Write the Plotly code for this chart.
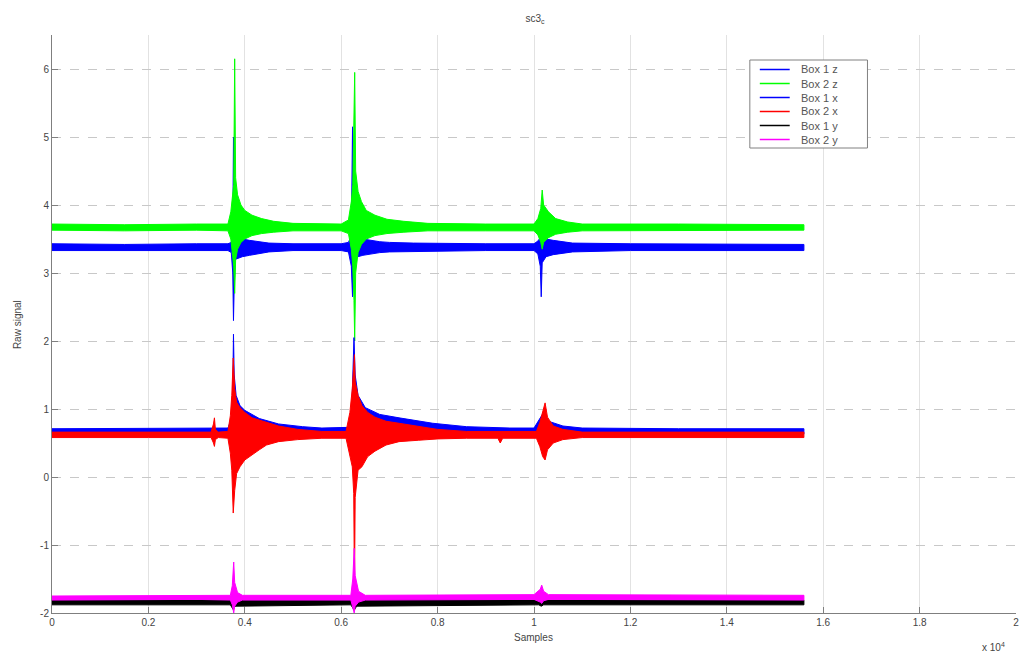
import plotly.graph_objects as go

# Envelopes of each raw signal: (sample, lower, upper)
box1_z = [(0,3.33,3.43),(1500,3.33,3.42),(3000,3.33,3.43),(3650,3.33,3.43),(3720,3.30,3.45),(3750,3.00,3.60),
          (3765,2.30,5.00),(3780,2.80,3.70),(3800,3.20,3.55),(3850,3.22,3.53),(3950,3.24,3.50),(4100,3.26,3.48),
          (4300,3.29,3.46),(4500,3.31,3.44),(5000,3.33,3.43),(6000,3.33,3.43),(6150,3.31,3.45),(6210,3.10,3.55),
          (6235,2.65,5.15),(6250,3.00,3.60),(6270,3.20,3.55),(6300,3.22,3.54),(6350,3.24,3.52),(6450,3.26,3.50),
          (6600,3.28,3.48),(6800,3.30,3.46),(7000,3.31,3.45),(7500,3.32,3.44),(9000,3.33,3.43),(10000,3.33,3.43),
          (10080,3.28,3.47),(10130,3.10,3.52),(10150,2.65,3.50),(10170,3.15,3.50),(10250,3.24,3.50),(10400,3.27,3.48),
          (10600,3.29,3.46),(10800,3.31,3.44),(12000,3.33,3.43),(14000,3.33,3.43),(15600,3.33,3.42)]

box2_z = [(0,3.63,3.72),(1500,3.62,3.71),(3000,3.63,3.72),(3650,3.62,3.72),(3710,3.50,3.90),(3740,3.30,4.10),
          (3770,3.10,4.30),(3790,2.70,6.15),(3810,3.20,4.40),(3850,3.35,4.15),(3920,3.45,4.00),(4000,3.50,3.92),
          (4150,3.55,3.85),(4350,3.58,3.80),(4600,3.60,3.76),(5000,3.62,3.73),(6000,3.62,3.72),(6150,3.58,3.78),
          (6210,3.35,4.05),(6240,3.10,4.30),(6265,2.60,5.20),(6280,2.00,5.95),(6300,3.00,4.50),(6350,3.30,4.20),
          (6420,3.42,4.05),(6520,3.50,3.92),(6700,3.55,3.85),(6950,3.58,3.79),(7300,3.60,3.76),(7800,3.62,3.73),
          (9000,3.62,3.72),(10000,3.62,3.72),(10080,3.56,3.80),(10140,3.45,3.95),(10170,3.35,4.22),(10200,3.45,4.00),
          (10300,3.52,3.90),(10450,3.57,3.80),(10700,3.60,3.75),(11000,3.62,3.72),(13000,3.62,3.72),(15600,3.63,3.71)]

box1_x = [(0,0.63,0.71),(2000,0.63,0.71),(3300,0.63,0.71),(3650,0.62,0.72),(3720,0.50,0.85),(3750,0.20,1.30),
          (3765,-0.10,2.10),(3780,0.30,1.50),(3820,0.45,1.20),(3900,0.50,1.05),(4000,0.53,0.98),(4300,0.56,0.86),
          (4700,0.60,0.78),(5200,0.62,0.74),(5600,0.63,0.72),(6150,0.62,0.73),(6220,0.40,1.00),(6250,0.10,1.60),
          (6265,0.00,2.05),(6290,0.30,1.50),(6350,0.45,1.20),(6500,0.50,1.02),(6800,0.55,0.92),(7200,0.58,0.87),
          (7900,0.61,0.79),(8600,0.63,0.74),(9500,0.63,0.72),(10000,0.63,0.72),(10120,0.55,0.85),(10200,0.45,0.95),
          (10300,0.55,0.82),(10600,0.62,0.75),(11000,0.63,0.72),(13000,0.63,0.71),(15600,0.63,0.71)]

box2_x = [(0,0.58,0.66),(2000,0.58,0.66),(3300,0.58,0.66),(3350,0.50,0.78),(3370,0.45,0.87),(3390,0.55,0.70),
          (3450,0.58,0.66),(3650,0.57,0.67),(3700,0.35,0.90),(3730,0.10,1.20),(3760,-0.53,1.75),(3790,-0.20,1.30),
          (3830,0.05,1.10),(3900,0.15,1.02),(4000,0.25,0.95),(4150,0.33,0.87),(4300,0.40,0.84),(4450,0.47,0.80),
          (4700,0.52,0.75),(5100,0.55,0.70),(5600,0.57,0.67),(6100,0.57,0.67),(6180,0.30,0.95),(6230,0.15,1.30),
          (6260,-0.24,1.60),(6275,-1.72,1.80),(6290,-0.30,1.40),(6350,0.10,1.20),(6430,0.15,1.05),(6550,0.30,0.95),
          (6700,0.38,0.88),(6930,0.47,0.82),(7200,0.52,0.79),(7600,0.54,0.74),(8000,0.56,0.70),(8600,0.57,0.67),
          (9250,0.57,0.67),(9300,0.50,0.68),(9350,0.57,0.67),(10050,0.57,0.67),(10120,0.45,0.80),(10180,0.30,0.95),
          (10230,0.25,1.09),(10280,0.40,0.88),(10400,0.50,0.75),(10600,0.55,0.70),(11000,0.58,0.66),(13000,0.58,0.66),
          (15600,0.58,0.66)]

box1_y = [(0,-1.88,-1.81),(3700,-1.88,-1.81),(3760,-1.95,-1.76),(3800,-1.90,-1.80),(6200,-1.88,-1.81),
          (6270,-1.96,-1.74),(6320,-1.90,-1.80),(10100,-1.88,-1.81),(10150,-1.90,-1.76),(10200,-1.88,-1.81),
          (15600,-1.88,-1.81)]

box2_y = [(0,-1.81,-1.75),(3000,-1.80,-1.74),(3700,-1.81,-1.74),(3740,-1.88,-1.60),(3770,-2.00,-1.25),
          (3790,-1.90,-1.55),(3850,-1.84,-1.70),(3950,-1.81,-1.74),(6200,-1.81,-1.74),(6240,-1.90,-1.50),
          (6270,-2.00,-1.05),(6290,-1.90,-1.45),(6360,-1.84,-1.68),(6500,-1.81,-1.74),(10000,-1.80,-1.73),
          (10130,-1.84,-1.65),(10160,-1.86,-1.59),(10200,-1.82,-1.68),(10300,-1.80,-1.73),(15600,-1.81,-1.74)]

series_names = ["Box 1 z", "Box 2 z", "Box 1 x", "Box 2 x", "Box 1 y", "Box 2 y"]
series_data = [box1_z, box2_z, box1_x, box2_x, box1_y, box2_y]
series_colors = ["#0000ff", "#00ff00", "#0000ff", "#ff0000", "#000000", "#ff00ff"]

x_tickvals = [0, 2000, 4000, 6000, 8000, 10000, 12000, 14000, 16000, 18000, 20000]
x_ticktext = ["0", "0.2", "0.4", "0.6", "0.8", "1", "1.2", "1.4", "1.6", "1.8", "2"]
y_tickvals = [-2, -1, 0, 1, 2, 3, 4, 5, 6]
y_ticktext = ["-2", "-1", "0", "1", "2", "3", "4", "5", "6"]

# plot-area geometry in pixels (for converting to paper coordinates)
L, R, T, B = 52, 1019, 35, 613
def px(xp):
    return (xp - L) / (R - L)
def py(yp):
    return (B - yp) / (B - T)

fig = go.Figure()
for name, data, color in zip(series_names, series_data, series_colors):
    xs = [p[0] for p in data]
    lo = [p[1] for p in data]
    hi = [p[2] for p in data]
    fig.add_trace(go.Scatter(
        x=xs + xs[::-1], y=hi + lo[::-1], mode="lines", fill="toself",
        fillcolor=color, line=dict(color=color, width=1), showlegend=False, name=name,
        hoverinfo="skip"))

font_family = "Liberation Sans, Arial, sans-serif"
axis_common = dict(showline=True, linecolor="#7f7f7f", linewidth=1, ticks="inside",
                   ticklen=6, tickcolor="#7f7f7f", mirror=False, zeroline=False,
                   tickfont=dict(size=10, color="#444", family=font_family))

shapes = []
annotations = [
    dict(text="Samples", xref="paper", yref="paper", x=px(535), y=py(637),
         showarrow=False, font=dict(size=10, color="#444"), xanchor="center", yanchor="middle"),
    dict(text="Raw signal", xref="paper", yref="paper", x=px(17), y=py(325),
         showarrow=False, textangle=-90, font=dict(size=10, color="#444"),
         xanchor="center", yanchor="middle"),
    dict(text="x 10<sup>4</sup>", xref="paper", yref="paper", x=px(996), y=py(647),
         showarrow=False, font=dict(size=10, color="#444"), xanchor="center", yanchor="middle"),
]

# legend box drawn by hand to match the compact MATLAB legend
shapes.append(dict(type="rect", xref="paper", yref="paper", x0=px(752), x1=px(870), y0=py(148), y1=py(60),
                   line=dict(color="#808080", width=1), fillcolor="white", layer="above"))
for i, (name, color) in enumerate(zip(series_names, series_colors)):
    yc = 69.5 + i * 14
    shapes.append(dict(type="line", xref="paper", yref="paper", x0=px(762), x1=px(792), y0=py(yc), y1=py(yc),
                       line=dict(color=color, width=1.5), layer="above"))
    annotations.append(dict(text=name, xref="paper", yref="paper", x=px(801), y=py(yc), showarrow=False,
                            xanchor="left", yanchor="middle", font=dict(size=11, color="#555")))

fig.update_layout(
    width=1028, height=656,
    margin=dict(l=L, r=1028 - R, t=T, b=656 - B),
    plot_bgcolor="white", paper_bgcolor="white",
    font=dict(family=font_family, size=10, color="#444"),
    title=dict(text="sc3<sub>c</sub>", x=535 / 1028, xanchor="center",
               y=1 - 18 / 656, yanchor="middle", font=dict(size=10, color="#444")),
    xaxis=dict(range=[0, 20000], tickvals=x_tickvals, ticktext=x_ticktext,
               showgrid=True, gridcolor="#e2e2e2", gridwidth=1, **axis_common),
    yaxis=dict(range=[-2, 6.5], tickvals=y_tickvals, ticktext=y_ticktext,
               showgrid=True, gridcolor="#c8c8c8", gridwidth=1, griddash="dash", **axis_common),
    showlegend=False,
    shapes=shapes,
    annotations=annotations,
)

fig.write_html("out.html")
